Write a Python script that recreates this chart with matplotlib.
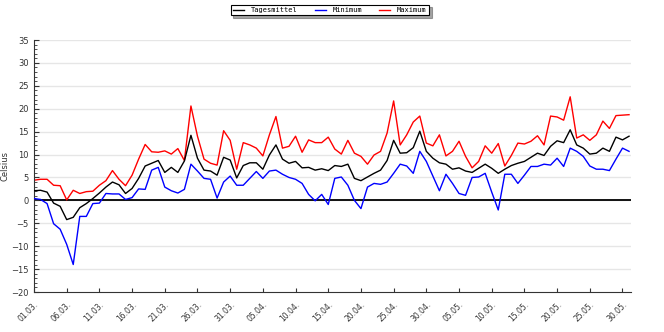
import numpy as np
import matplotlib
matplotlib.use('Agg')
import matplotlib.pyplot as plt
from matplotlib.ticker import MultipleLocator

# daily values 01.03. - 31.05.
t_mean = [2.1, 2.2, 1.8, -0.6, -1.3, -4.2, -3.7, -1.6, -0.7, 0.4,
          1.6, 2.9, 4.0, 3.4, 1.5, 2.6, 4.8, 7.5, 8.1, 8.7,
          6.1, 7.2, 6.1, 8.6, 14.2, 9.2, 6.6, 6.4, 5.5, 9.4,
          8.8, 4.9, 7.6, 8.2, 8.2, 6.8, 9.9, 12.1, 9.0, 8.1,
          8.5, 7.1, 7.2, 6.6, 6.9, 6.5, 7.6, 7.4, 7.9, 4.8,
          4.3, 5.1, 5.9, 6.6, 8.7, 13.1, 10.3, 10.4, 11.5, 15.1,
          10.7, 9.2, 8.2, 7.9, 6.8, 7.1, 6.4, 6.1, 7.0, 7.9,
          7.0, 5.9, 6.8, 7.6, 8.1, 8.5, 9.4, 10.3, 9.8, 11.8,
          13.0, 12.6, 15.4, 12.1, 11.4, 10.1, 10.3, 11.4, 10.7, 13.8,
          13.2, 14.0]
t_min = [0.4, 0.2, -0.7, -5.1, -6.3, -9.6, -14.0, -3.5, -3.5, -0.7,
         -0.6, 1.5, 1.4, 1.4, 0.2, 0.6, 2.5, 2.4, 6.6, 7.2,
         2.9, 2.1, 1.6, 2.4, 7.9, 6.4, 4.8, 4.6, 0.5, 4.0,
         5.3, 3.3, 3.3, 4.8, 6.3, 4.8, 6.4, 6.6, 5.7, 5.0,
         4.6, 3.7, 1.3, -0.1, 1.3, -0.9, 4.8, 5.1, 3.3, 0.0,
         -1.8, 2.9, 3.7, 3.5, 4.0, 5.9, 7.9, 7.5, 5.9, 10.7,
         8.5, 5.3, 2.1, 5.7, 3.7, 1.5, 1.1, 5.0, 5.1, 5.9,
         1.8, -2.1, 5.7, 5.7, 3.7, 5.5, 7.4, 7.4, 7.9, 7.7,
         9.2, 7.4, 11.4, 10.7, 9.6, 7.5, 6.8, 6.8, 6.5, 9.0,
         11.4, 10.7]
t_max = [4.4, 4.6, 4.6, 3.3, 3.2, 0.1, 2.2, 1.5, 1.9, 2.0,
         3.3, 4.3, 6.5, 4.6, 3.2, 5.5, 9.0, 12.2, 10.6, 10.5,
         10.8, 10.1, 11.3, 8.7, 20.6, 14.0, 9.0, 8.1, 7.7, 15.2,
         13.1, 6.8, 12.6, 12.1, 11.4, 9.7, 14.3, 18.3, 11.4, 11.8,
         14.0, 10.5, 13.2, 12.6, 12.6, 13.8, 11.2, 10.1, 13.1, 10.3,
         9.6, 7.9, 9.9, 10.7, 14.7, 21.7, 12.1, 14.3, 17.1, 18.4,
         12.5, 11.9, 14.3, 9.7, 10.7, 12.9, 9.6, 7.1, 8.5, 11.9,
         10.3, 12.4, 7.5, 9.8, 12.5, 12.3, 12.9, 14.1, 12.1, 18.4,
         18.2, 17.5, 22.6, 13.6, 14.3, 13.1, 14.3, 17.3, 15.7, 18.5,
         18.6, 18.7]
tick_labels = ['01.03.', '06.03.', '11.03.', '16.03.', '21.03.', '26.03.', '31.03.',
               '05.04.', '10.04.', '15.04.', '20.04.', '25.04.', '30.04.',
               '05.05.', '10.05.', '15.05.', '20.05.', '25.05.', '30.05.']

days = np.arange(len(t_mean))

fig = plt.figure(figsize=(6.64, 3.32), dpi=100)
ax = fig.add_axes([34/664, 40/332, 597/664, 252/332])

for y in range(-15, 40, 5):
    ax.axhline(y, color='#e6e6e6', lw=1.0, zorder=0)
ax.axhline(0, color='black', lw=1.3, zorder=1)

l1, = ax.plot(days, t_max, color='#ff0000', lw=1.0, zorder=2)
l2, = ax.plot(days, t_mean, color='black', lw=1.0, zorder=3)
l3, = ax.plot(days, t_min, color='#0000ff', lw=1.0, zorder=3)

ax.set_xlim(0, 91.3)
ax.set_ylim(-20, 35)
ax.yaxis.set_major_locator(MultipleLocator(5))
ax.yaxis.set_minor_locator(MultipleLocator(1))
ax.set_xticks(days[::5])
ax.set_xticklabels(tick_labels, rotation=45, ha='right', va='top',
                   rotation_mode='anchor', fontsize=5.5, color='#333333')
ax.tick_params(axis='x', direction='in', length=3, width=0.8, pad=6, colors='#333333')
ax.tick_params(axis='y', which='major', direction='in', length=3.5, width=0.8,
               labelsize=6, colors='#333333', pad=4)
ax.tick_params(axis='y', which='minor', direction='in', length=1.8, width=0.6, colors='#333333')

for s in ['top', 'right']:
    ax.spines[s].set_visible(False)
for s in ['left', 'bottom']:
    ax.spines[s].set_color('#333333')
    ax.spines[s].set_linewidth(0.8)

ax.set_ylabel('Celsius', fontsize=6, color='#333333', labelpad=1)

leg = fig.legend([l2, l3, l1], ['Tagesmittel', 'Minimum', 'Maximum'],
                 loc='center', bbox_to_anchor=(0.497, 0.97), ncol=3,
                 prop={'family': 'DejaVu Sans Mono', 'size': 5.0},
                 frameon=True, fancybox=False, shadow=True,
                 handlelength=1.6, columnspacing=2.4, borderpad=0.35,
                 handletextpad=1.0)
leg.get_frame().set_edgecolor('black')
leg.get_frame().set_linewidth(0.8)

fig.savefig('out.png', dpi=100)
